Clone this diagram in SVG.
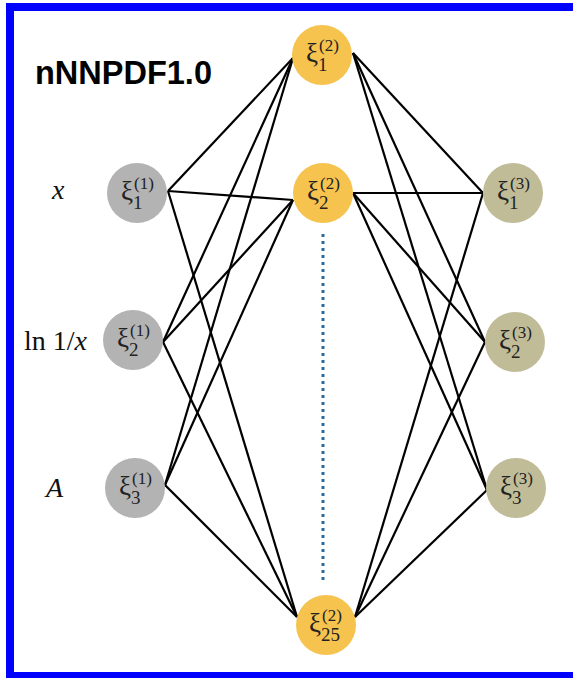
<svg xmlns="http://www.w3.org/2000/svg" width="573" height="678" viewBox="0 0 573 678">
<style>
.l1{fill:#b3b3b3}
.l2{fill:#f6c34f}
.l3{fill:#c1bc98}
.xi{font-family:"Liberation Serif","DejaVu Serif",serif;font-size:27px;fill:#222}
.sup{font-family:"Liberation Serif","DejaVu Serif",serif;font-size:17px;fill:#222}
.sub{font-family:"Liberation Serif","DejaVu Serif",serif;font-size:19px;fill:#222}
.lab{font-family:"Liberation Serif","DejaVu Serif",serif;font-size:28px;fill:#111}
.edge{stroke:#000;stroke-width:2.2;fill:none}
</style>
<rect x="0" y="0" width="573" height="678" fill="#fff"/>
<rect x="10" y="7" width="600" height="669" fill="none" stroke="#0000ff" stroke-width="8"/>
<text x="35" y="84" font-family="Liberation Sans, Arial, sans-serif" font-weight="bold" font-size="32.5" fill="#000">nNNPDF1.0</text>
<g id="edges">
<line class="edge" x1="168" y1="191" x2="293" y2="58"/>
<line class="edge" x1="168" y1="191" x2="293" y2="200"/>
<line class="edge" x1="168" y1="191" x2="297" y2="617"/>
<line class="edge" x1="163" y1="342" x2="293" y2="58"/>
<line class="edge" x1="163" y1="342" x2="293" y2="200"/>
<line class="edge" x1="163" y1="342" x2="297" y2="617"/>
<line class="edge" x1="165" y1="485" x2="293" y2="58"/>
<line class="edge" x1="165" y1="485" x2="293" y2="200"/>
<line class="edge" x1="165" y1="485" x2="297" y2="617"/>
<line class="edge" x1="353" y1="53" x2="483" y2="193"/>
<line class="edge" x1="353" y1="53" x2="485" y2="342"/>
<line class="edge" x1="353" y1="53" x2="487" y2="490"/>
<line class="edge" x1="353" y1="193" x2="483" y2="193"/>
<line class="edge" x1="353" y1="193" x2="485" y2="342"/>
<line class="edge" x1="353" y1="193" x2="487" y2="490"/>
<line class="edge" x1="355" y1="617" x2="483" y2="193"/>
<line class="edge" x1="355" y1="617" x2="485" y2="342"/>
<line class="edge" x1="355" y1="617" x2="487" y2="490"/>
<line x1="323" y1="234" x2="323" y2="580" stroke="#2b6a9e" stroke-width="3" stroke-dasharray="3 4"/>
</g>
<g id="label-x"><text class="lab" x="52" y="199" font-style="italic">x</text></g>
<g id="label-ln"><text class="lab" x="24" y="350">ln 1/<tspan font-style="italic">x</tspan></text></g>
<g id="label-A"><text class="lab" x="46" y="497" font-style="italic">A</text></g>
<g id="n-l1"><circle class="l1" cx="137" cy="193" r="30"/><text class="xi" x="121" y="200">ξ</text><text class="sup" x="134" y="189">(1)</text><text class="sub" x="133" y="209">1</text></g>
<g id="n-l2"><circle class="l1" cx="133" cy="340" r="30"/><text class="xi" x="117" y="347">ξ</text><text class="sup" x="130" y="336">(1)</text><text class="sub" x="129" y="356">2</text></g>
<g id="n-l3"><circle class="l1" cx="135" cy="488" r="30"/><text class="xi" x="119" y="495">ξ</text><text class="sup" x="132" y="484">(1)</text><text class="sub" x="131" y="504">3</text></g>
<g id="n-m1"><circle class="l2" cx="322" cy="55" r="30"/><text class="xi" x="306" y="62">ξ</text><text class="sup" x="319" y="51">(2)</text><text class="sub" x="318" y="71">1</text></g>
<g id="n-m2"><circle class="l2" cx="323" cy="193" r="30"/><text class="xi" x="307" y="200">ξ</text><text class="sup" x="320" y="189">(2)</text><text class="sub" x="319" y="209">2</text></g>
<g id="n-m25"><circle class="l2" cx="326" cy="625" r="30"/><text class="xi" x="309" y="632">ξ</text><text class="sup" x="322" y="621">(2)</text><text class="sub" x="321" y="641">25</text></g>
<g id="n-r1"><circle class="l3" cx="513" cy="193" r="30"/><text class="xi" x="497" y="200">ξ</text><text class="sup" x="510" y="189">(3)</text><text class="sub" x="509" y="209">1</text></g>
<g id="n-r2"><circle class="l3" cx="515" cy="342" r="30"/><text class="xi" x="499" y="349">ξ</text><text class="sup" x="512" y="338">(3)</text><text class="sub" x="511" y="358">2</text></g>
<g id="n-r3"><circle class="l3" cx="516" cy="488" r="30"/><text class="xi" x="500" y="495">ξ</text><text class="sup" x="513" y="484">(3)</text><text class="sub" x="512" y="504">3</text></g>
</svg>
